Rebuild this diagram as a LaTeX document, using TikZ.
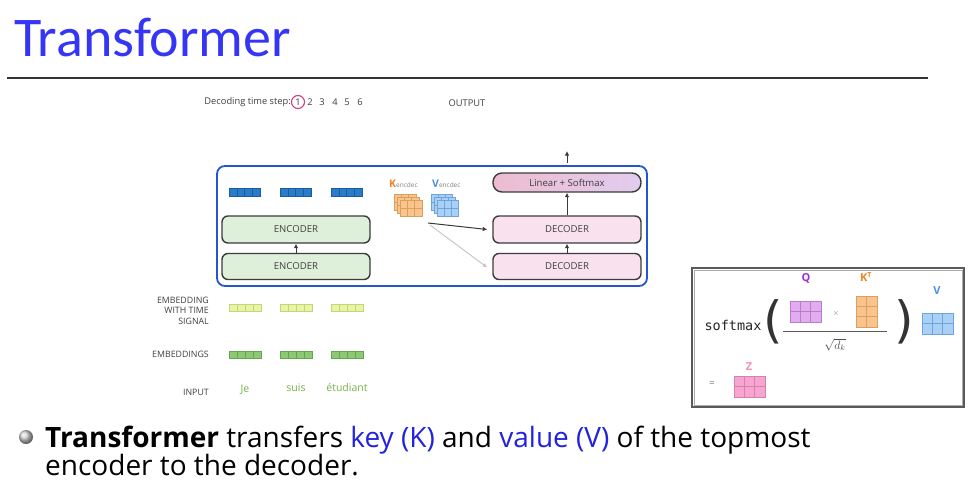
\documentclass[tikz,border=0pt]{standalone}
\usepackage{fontspec}
\setmainfont{Open Sans}
\newfontfamily\slidefont{Carlito}
\newfontfamily\bodyfont{Open Sans}
\newfontfamily\codefont{DejaVu Sans Mono}
\newfontfamily\parenfont{DejaVu Sans}
\usetikzlibrary{arrows.meta,shadings}

\definecolor{titleblue}{HTML}{3535F5}
\definecolor{keyblue}{HTML}{2222E0}
\definecolor{rulegray}{HTML}{333333}
\definecolor{frameblue}{HTML}{2456D0}
\definecolor{boxedge}{HTML}{3C3C3C}
\definecolor{encfill}{HTML}{DFF0DA}
\definecolor{decfill}{HTML}{F9E1EE}
\definecolor{linleft}{HTML}{EDBCD0}
\definecolor{linright}{HTML}{E2CCF0}
\definecolor{labelgray}{HTML}{3F3F3F}
\definecolor{arrowgray}{HTML}{3A3A3A}
\definecolor{faintarrow}{HTML}{C8C8C8}
\definecolor{stepring}{HTML}{D0407F}
\definecolor{wordgreen}{HTML}{74B446}
\definecolor{barblue}{HTML}{2A7CC8}
\definecolor{barblueedge}{HTML}{1A5CA0}
\definecolor{baryellow}{HTML}{E9F5A2}
\definecolor{baryellowedge}{HTML}{C4D67C}
\definecolor{bargreen}{HTML}{8DC873}
\definecolor{bargreenedge}{HTML}{66A64E}
\definecolor{korange}{HTML}{F0821E}
\definecolor{kfill}{HTML}{F9C58C}
\definecolor{kedge}{HTML}{D9A060}
\definecolor{vblue}{HTML}{4A90E2}
\definecolor{vfill}{HTML}{A9D1F7}
\definecolor{vedge}{HTML}{6FA3DA}
\definecolor{qpurple}{HTML}{A02FD0}
\definecolor{qfill}{HTML}{E3ABF0}
\definecolor{qedge}{HTML}{B57FC9}
\definecolor{zpink}{HTML}{F48FB8}
\definecolor{zfill}{HTML}{F7A6D2}
\definecolor{zedge}{HTML}{D77FAE}
\definecolor{sketchgray}{HTML}{5A5A5A}

% filled block of cells: x, y, width, height, columns, rows, fill, edge
\newcommand\cellgrid[8]{%
  \filldraw[fill=#7,draw=#8,line width=0.5pt] (#1,#2) rectangle ++(#3,#4);
  \foreach \ci in {1,...,#5}{\ifnum\ci<#5\relax
    \draw[#8,line width=0.5pt] ({#1+\ci*#3/#5},#2) -- ++(0,#4);\fi}
  \foreach \ri in {1,...,#6}{\ifnum\ri<#6\relax
    \draw[#8,line width=0.5pt] (#1,{#2+\ri*#4/#6}) -- ++(#3,0);\fi}
}

\begin{document}
\begin{tikzpicture}[x=1pt,y=-1pt,
  stage/.style={draw=boxedge, line width=1.4pt, rounded corners=6pt,
    minimum width=148pt, inner sep=0pt, text=labelgray,
    font=\fontsize{9.6}{11}\selectfont},
  encbox/.style={stage, fill=encfill, minimum height=26pt},
  decbox/.style={stage, fill=decfill, minimum height=26pt},
  flow/.style={-{Latex[length=4.5pt,width=4.5pt]}, line width=1pt, draw=arrowgray},
  caption/.style={font=\fontsize{8.8}{10.5}\selectfont, text=labelgray, inner sep=0pt},
  word/.style={font=\fontsize{10.5}{12}\selectfont, text=wordgreen, inner sep=0pt},
  stepnum/.style={font=\fontsize{9.3}{10}\selectfont, text=labelgray, inner sep=0pt},
  mlabel/.style={font=\bfseries\fontsize{11}{12}\selectfont, inner sep=0pt},
  slide/.style={font=\bodyfont\fontsize{28}{34}\selectfont, inner sep=0pt, anchor=base west}
]
\useasboundingbox (0,0) rectangle (975,482);
\fill[white] (0,0) rectangle (975,482);

% heading
\node[anchor=base west, inner sep=0pt, text=titleblue,
  font=\slidefont\fontsize{56}{60}\selectfont] (title) at (14,56) {Transformer};
\draw[rulegray, line width=2pt] (7,78) -- (928,78);

% decoding time steps
\node[stepnum, anchor=east] (steplabel) at (291,102) {Decoding time step:};
\node[stepnum, draw=stepring, circle, line width=1.1pt, minimum size=13pt] (s1) at (298,102) {1};
\node[stepnum] (s2) at (310,102) {2};
\node[stepnum] (s3) at (322,102) {3};
\node[stepnum] (s4) at (335,102) {4};
\node[stepnum] (s5) at (347,102) {5};
\node[stepnum] (s6) at (360,102) {6};
\node[stepnum] (output) at (467,103) {OUTPUT};

% encoder-decoder stack
\draw[frameblue, line width=1.8pt, rounded corners=8pt] (217,166) rectangle (647,286);

\cellgrid{229}{188}{31}{8}{4}{1}{barblue}{barblueedge}
\cellgrid{280}{188}{31}{8}{4}{1}{barblue}{barblueedge}
\cellgrid{331}{188}{31}{8}{4}{1}{barblue}{barblueedge}

\node[encbox] (enc1) at (296,266.5) {ENCODER};
\node[encbox, minimum height=27pt] (enc2) at (296,229.5) {ENCODER};
\node[decbox] (dec1) at (567,266.5) {DECODER};
\node[decbox, minimum height=27pt] (dec2) at (567,229.5) {DECODER};
\node[stage, minimum height=19pt, rounded corners=9pt,
  left color=linleft, right color=linright] (lin) at (567,182.5) {Linear + Softmax};

\draw[flow] (enc1.north) -- (enc2.south);
\draw[flow] (dec1.north) -- (dec2.south);
\draw[flow] (dec2.north) -- (lin.south);
\coordinate (outbase) at (567,163);
\coordinate (outtip) at (567,151);
\draw[flow] (outbase) -- (outtip);

% encoder keys and values
\node[anchor=base west, inner sep=0pt] (klabel) at (389,187)
  {\textcolor{korange}{\bfseries\fontsize{10.5}{11}\selectfont K}\textcolor{gray}{\fontsize{6.5}{7}\selectfont encdec}};
\node[anchor=base west, inner sep=0pt] (vlabel) at (432,187)
  {\textcolor{vblue}{\bfseries\fontsize{10.5}{11}\selectfont V}\textcolor{gray}{\fontsize{6.5}{7}\selectfont encdec}};
\cellgrid{394}{194}{22}{16}{3}{2}{kfill}{kedge}
\cellgrid{397}{197}{22}{16}{3}{2}{kfill}{kedge}
\cellgrid{400}{200}{22}{16}{3}{2}{kfill}{kedge}
\cellgrid{431}{194}{21}{16}{3}{2}{vfill}{vedge}
\cellgrid{434}{197}{21}{16}{3}{2}{vfill}{vedge}
\cellgrid{437}{200}{21}{16}{3}{2}{vfill}{vedge}
\coordinate (kvsrc) at (428,223);
\draw[flow] (kvsrc) -- ([xshift=-5pt]dec2.west);
\draw[flow, draw=faintarrow] ([xshift=2pt,yshift=-2pt]kvsrc) -- ([xshift=-5pt,yshift=-1pt]dec1.west);

% inputs and embeddings
\node[caption, anchor=east, align=right] (timesig) at (209,310.5)
  {EMBEDDING\\WITH TIME\\SIGNAL};
\node[caption, anchor=east] (emb) at (209,354) {EMBEDDINGS};
\node[caption, anchor=east] (inp) at (209,392) {INPUT};
\cellgrid{229}{304}{32}{7}{4}{1}{baryellow}{baryellowedge}
\cellgrid{280}{304}{32}{7}{4}{1}{baryellow}{baryellowedge}
\cellgrid{331}{304}{32}{7}{4}{1}{baryellow}{baryellowedge}
\cellgrid{229}{351}{32}{7}{4}{1}{bargreen}{bargreenedge}
\cellgrid{280}{351}{32}{7}{4}{1}{bargreen}{bargreenedge}
\cellgrid{331}{351}{32}{7}{4}{1}{bargreen}{bargreenedge}
\node[word] (je) at (245,390) {Je};
\node[word] (suis) at (296,388) {suis};
\node[word] (etud) at (347,388) {étudiant};

% attention formula panel
\draw[sketchgray, line width=1.6pt] (692,268) rectangle (964,407);
\draw[sketchgray!50, line width=0.6pt] (694,270) rectangle (962,405);
\node[inner sep=0pt, font=\codefont\fontsize{13.5}{14}\selectfont, text=black!85] (softmax) at (733,325) {softmax};
\node[inner sep=0pt, font=\parenfont\fontsize{50}{52}\selectfont, text=black!80] (lpar) at (773,322) {(};
\node[inner sep=0pt, font=\parenfont\fontsize{50}{52}\selectfont, text=black!80] (rpar) at (904,322) {)};
\node[mlabel, text=qpurple] (qlab) at (806,278) {Q};
\node[mlabel, text=korange] (ktlab) at (866,277) {K\textsuperscript{\fontsize{7}{8}\selectfont T}};
\node[mlabel, text=vblue] (vlab) at (937,291) {V};
\node[mlabel, text=zpink] (zlab) at (749,367) {Z};
\cellgrid{790}{301}{31}{21}{3}{2}{qfill}{qedge}
\cellgrid{856}{296}{21}{31}{2}{3}{kfill}{kedge}
\cellgrid{922}{313}{31}{21}{3}{2}{vfill}{vedge}
\cellgrid{734}{376}{31}{21}{3}{2}{zfill}{zedge}
\node[inner sep=0pt, font=\fontsize{8}{8}\selectfont, text=gray] (times) at (836,313) {$\times$};
\draw[sketchgray, line width=0.7pt] (783,331) -- (887,331);
\node[inner sep=0pt, font=\fontsize{11.5}{12}\selectfont, text=black!70] (sqrtdk) at (835,345) {$\sqrt{d_k}$};
\node[inner sep=0pt, font=\fontsize{10}{10}\selectfont, text=gray] (eq) at (712,384) {=};

% bullet line
\shade[ball color=gray!35] (26,437) circle (7);
\node[slide] (line1) at (45,447)
  {\textbf{Transformer} transfers \textcolor{keyblue}{key (K)} and \textcolor{keyblue}{value (V)} of the topmost};
\node[slide] (line2) at (45,475) {encoder to the decoder.};
\end{tikzpicture}
\end{document}
